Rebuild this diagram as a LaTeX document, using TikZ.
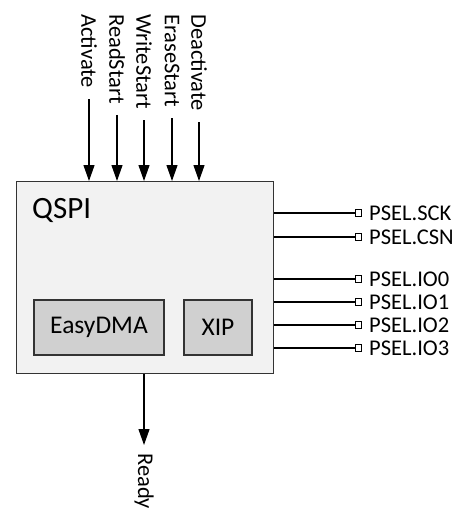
\documentclass[tikz,border=0pt]{standalone}
\usepackage{fontspec}
\setmainfont{Carlito}
\usetikzlibrary{arrows.meta}
\definecolor{boxfill}{HTML}{F2F2F2}
\definecolor{subfill}{HTML}{D0D0D0}
\tikzset{
  mainbox/.style={draw=black!80, line width=1.3pt, fill=boxfill, inner sep=0pt},
  subbox/.style={draw=black!80, line width=1.1pt, fill=subfill, inner sep=0pt, font=\fontsize{25.5}{28}\selectfont},
  toplbl/.style={rotate=-90, anchor=west, inner sep=0pt, font=\fontsize{22.5}{25}\selectfont},
  pinlbl/.style={anchor=west, inner sep=0pt, font=\fontsize{22.5}{25}\selectfont},
  sig/.style={line width=1.2pt, -{Triangle[length=16pt,width=11pt]}},
  pinline/.style={line width=1.1pt},
  pad/.style={draw, fill=white, line width=0.9pt, minimum size=6.5pt, inner sep=0pt},
}
\begin{document}
\begin{tikzpicture}[x=1pt,y=-1pt]
\useasboundingbox (0,0) rectangle (469,524);
% main box
\node[mainbox, minimum width=256.5pt, minimum height=192pt, anchor=north west] (qspi) at (16,181) {};
\node[anchor=base west, inner sep=0pt, font=\fontsize{31}{34}\selectfont] (qspititle) at (32,218) {QSPI};
\node[subbox, minimum width=130pt, minimum height=55pt] (dma) at (99,327.5) {EasyDMA};
\node[subbox, minimum width=68pt, minimum height=55pt] (xip) at (218,327.5) {XIP};
% top signals
\node[toplbl] (act) at (89,14) {Activate};
\node[toplbl] (rs) at (117,14) {ReadStart};
\node[toplbl] (ws) at (144,14) {WriteStart};
\node[toplbl] (es) at (172,14) {EraseStart};
\node[toplbl] (de) at (199,14) {Deactivate};
\foreach \n in {act,rs,ws,es,de}
  \draw[sig, shorten <=11pt] (\n.east) -- (\n.east |- qspi.north);
% ready
\node[toplbl] (ready) at (144,453) {Ready};
\draw[sig, shorten >=8pt] (qspi.south -| ready.west) -- (ready.west);
% pins
\foreach \nm/\y/\t in {sck/213/PSEL.SCK, csn/237/PSEL.CSN, ioa/279/PSEL.IO0, iob/302/PSEL.IO1, ioc/325/PSEL.IO2, iod/348/PSEL.IO3}{
  \node[pad] (p\nm) at (358.5,\y) {};
  \node[pinlbl] (l\nm) at (369,\y) {\t};
  \draw[pinline] (p\nm.west -| qspi.east) -- (p\nm.west);
}
\end{tikzpicture}
\end{document}
